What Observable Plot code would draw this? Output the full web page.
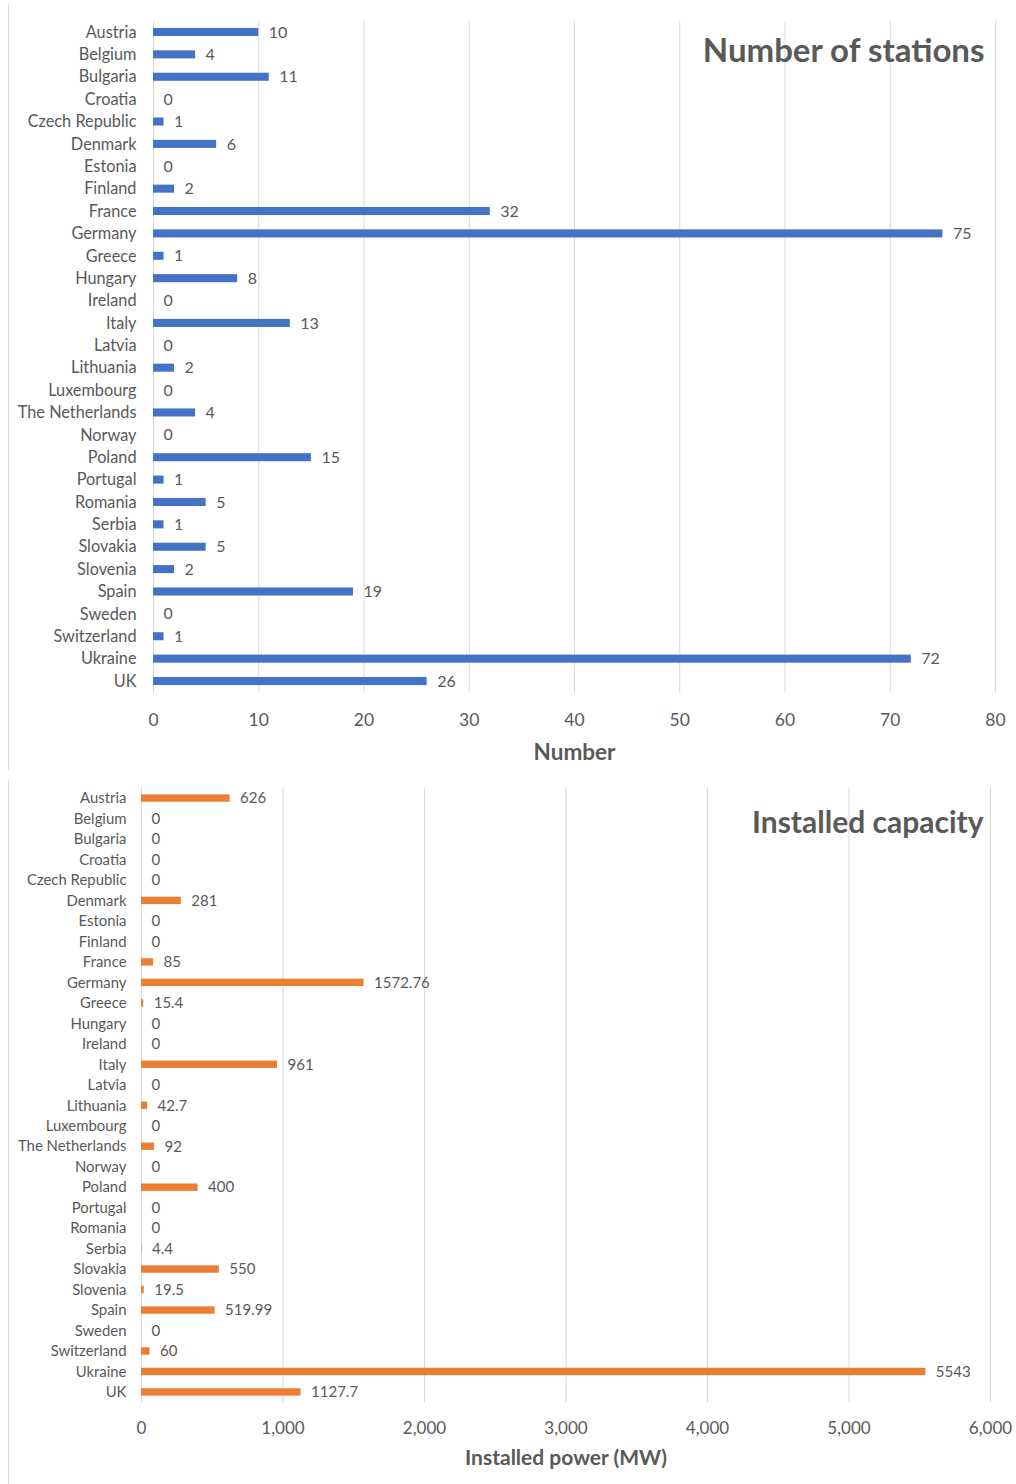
<!DOCTYPE html>
<html>
<head>
<meta charset="utf-8">
<script src="https://cdn.jsdelivr.net/npm/d3@7"></script>
<script src="https://cdn.jsdelivr.net/npm/@observablehq/plot@0.6"></script>
<style>
  body { margin: 0; background: #fff; }
  .chart { position: absolute; left: 0; width: 1016px; }
  .vline { position: absolute; left: 8px; width: 1px; background: #d9d9d9; }
</style>
</head>
<body>
<div class="vline" style="top:4px;height:766px"></div>
<div class="vline" style="top:780px;height:704px"></div>
<div id="top" class="chart" style="top:0"></div>
<div id="bot" class="chart" style="top:775px"></div>
<script>
const countries = ["Austria","Belgium","Bulgaria","Croatia","Czech Republic","Denmark","Estonia","Finland","France","Germany","Greece","Hungary","Ireland","Italy","Latvia","Lithuania","Luxembourg","The Netherlands","Norway","Poland","Portugal","Romania","Serbia","Slovakia","Slovenia","Spain","Sweden","Switzerland","Ukraine","UK"];
const stations = [10,4,11,0,1,6,0,2,32,75,1,8,0,13,0,2,0,4,0,15,1,5,1,5,2,19,0,1,72,26];
const power = [626,0,0,0,0,281,0,0,85,1572.76,15.4,0,0,961,0,42.7,0,92,0,400,0,0,4.4,550,19.5,519.99,0,60,5543,1127.7];
const stationTicks = [0,10,20,30,40,50,60,70,80];
const powerTicks = [0,1000,2000,3000,4000,5000,6000];
const topTitle = "Number of stations";
const topAxisLabel = "Number";
const botTitle = "Installed capacity";
const botAxisLabel = "Installed power (MW)";

const FONT = "Lato, 'Open Sans', sans-serif";
const GREY = "#595959";

const stationData = countries.map((c, i) => ({country: c, value: stations[i]}));
const powerData = countries.map((c, i) => ({country: c, value: power[i]}));

const topChart = Plot.plot({
  width: 1016,
  height: 775,
  marginLeft: 153,
  marginRight: 21,
  marginTop: 20.8,
  marginBottom: 82.8,
  style: {fontFamily: FONT, color: GREY, background: "transparent", overflow: "visible"},
  x: {domain: [0, 80]},
  y: {domain: countries, paddingInner: 0.64, paddingOuter: 0.32, round: false},
  marks: [
    Plot.gridX(stationTicks, {stroke: "#d9d9d9", strokeOpacity: 1, strokeWidth: 1}),
    Plot.barX(stationData, {x: "value", y: "country", fill: "#4472C4"}),
    Plot.text(stationData, {x: "value", y: "country", text: d => String(d.value), textAnchor: "start", dx: 10, fontSize: 16, fill: GREY}),
    Plot.axisY({tickSize: 0, tickPadding: 17, fontSize: 16.3, label: null}),
    Plot.axisX({ticks: stationTicks, tickSize: 0, tickPadding: 21, fontSize: 17.5, label: null, tickFormat: d => String(d)}),
    Plot.text([topAxisLabel], {frameAnchor: "bottom", dy: 60, lineAnchor: "middle", fontSize: 22.5, fontWeight: "bold", fill: GREY}),
    Plot.text([topTitle], {frameAnchor: "top-right", dx: -11, dy: 30, lineAnchor: "middle", textAnchor: "end", fontSize: 33, fontWeight: "bold", fill: GREY})
  ]
});
document.getElementById("top").append(topChart);

const botChart = Plot.plot({
  width: 1016,
  height: 709,
  marginLeft: 141,
  marginRight: 26,
  marginTop: 12.8,
  marginBottom: 81.8,
  style: {fontFamily: FONT, color: GREY, background: "transparent", overflow: "visible"},
  x: {domain: [0, 6000]},
  y: {domain: countries, paddingInner: 0.64, paddingOuter: 0.32, round: false},
  marks: [
    Plot.gridX(powerTicks, {stroke: "#d9d9d9", strokeOpacity: 1, strokeWidth: 1}),
    Plot.barX(powerData, {x: "value", y: "country", fill: "#ED7D31"}),
    Plot.text(powerData, {x: "value", y: "country", text: d => String(d.value), textAnchor: "start", dx: 10, fontSize: 15, fill: GREY}),
    Plot.axisY({tickSize: 0, tickPadding: 15, fontSize: 14.9, label: null}),
    Plot.axisX({ticks: powerTicks, tickSize: 0, tickPadding: 19, fontSize: 17, label: null, tickFormat: d3.format(",")}),
    Plot.text([botAxisLabel], {frameAnchor: "bottom", dy: 56, lineAnchor: "middle", fontSize: 21, fontWeight: "bold", fill: GREY}),
    Plot.text([botTitle], {frameAnchor: "top-right", dx: -7, dy: 35, lineAnchor: "middle", textAnchor: "end", fontSize: 30, fontWeight: "bold", fill: GREY})
  ]
});
document.getElementById("bot").append(botChart);
</script>
</body>
</html>
